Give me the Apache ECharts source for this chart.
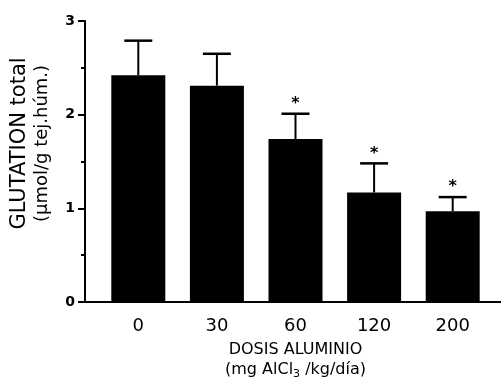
<!DOCTYPE html>
<html>
<head>
<meta charset="utf-8">
<script src="https://cdn.jsdelivr.net/npm/echarts@6/dist/echarts.min.js"></script>
<style>
  html, body { margin: 0; padding: 0; background: #fff; }
  #chart { width: 501px; height: 383px; }
</style>
</head>
<body>
<div id="chart"></div>
<script>
// dose groups (mg AlCl3/kg/día)
const categories = ['0', '30', '60', '120', '200'];
// total glutathione, mean and SD (µmol/g tej. húm.)
const means = [2.42, 2.31, 1.74, 1.17, 0.97];
const errors = [0.37, 0.34, 0.27, 0.31, 0.15];
// significance marks
const marks = ['', '', '*', '*', '*'];
const yTicks = [0, 1, 2, 3];

const font = 'DejaVu Sans';
const errData = means.map((m, i) => [i, m, errors[i], marks[i]]);

const chart = echarts.init(document.getElementById('chart'));

const option = {
  backgroundColor: '#fff',
  animation: false,
  grid: [
    { left: 99, right: 9, top: 21, bottom: 81, outerBoundsMode: 'none', containLabel: false },
    // wider grid only used to draw the long baseline
    { left: 85, right: 0, top: 21, bottom: 81, outerBoundsMode: 'none', containLabel: false }
  ],
  xAxis: [
    {
      type: 'category',
      gridIndex: 0,
      data: categories,
      axisLine: { show: false, onZero: false },
      axisTick: { show: false },
      axisLabel: {
        color: '#000',
        fontFamily: font,
        fontSize: 18,
        margin: 15
      },
      name: '{a|DOSIS ALUMINIO}\n{a|(mg AlCl}{s|3}{a| /kg/día)}',
      nameLocation: 'middle',
      nameGap: 38,
      nameTextStyle: {
        color: '#000',
        rich: {
          a: { fontFamily: font, fontSize: 16, lineHeight: 20, color: '#000' },
          s: { fontFamily: font, fontSize: 11, lineHeight: 20, verticalAlign: 'bottom', color: '#000' }
        }
      }
    },
    {
      type: 'value',
      gridIndex: 1,
      min: 0,
      max: 1,
      axisLine: { show: true, onZero: false, lineStyle: { color: '#000', width: 2 } },
      axisTick: { show: false },
      axisLabel: { show: false },
      splitLine: { show: false }
    }
  ],
  yAxis: [
    {
      type: 'value',
      gridIndex: 0,
      min: yTicks[0],
      max: yTicks[yTicks.length - 1],
      interval: 1,
      offset: 14,
      axisLine: { show: true, lineStyle: { color: '#000', width: 2 } },
      axisTick: { show: true, length: 7, lineStyle: { color: '#000', width: 2 } },
      minorTick: { show: true, splitNumber: 2, length: 4, lineStyle: { color: '#000', width: 2 } },
      splitLine: { show: false },
      axisLabel: {
        color: '#000',
        fontFamily: font,
        fontSize: 14,
        fontWeight: 'bold',
        margin: 10
      },
      name: '{a|GLUTATION total}\n{b|(µmol/g tej.húm.)}',
      nameLocation: 'middle',
      nameGap: 33,
      nameTextStyle: {
        color: '#000',
        padding: [0, 0, 0, 36],
        rich: {
          a: { fontFamily: font, fontSize: 21, lineHeight: 24, color: '#000' },
          b: { fontFamily: font, fontSize: 18, lineHeight: 20, color: '#000' }
        }
      }
    },
    {
      type: 'value',
      gridIndex: 1,
      min: 0,
      max: 1,
      show: false
    }
  ],
  series: [
    {
      type: 'bar',
      xAxisIndex: 0,
      yAxisIndex: 0,
      data: means,
      barWidth: 54,
      itemStyle: { color: '#000' }
    },
    {
      type: 'custom',
      xAxisIndex: 0,
      yAxisIndex: 0,
      data: errData,
      z: 3,
      renderItem: function (params, api) {
        const idx = api.value(0);
        const base = api.coord([idx, api.value(1)]);
        const top = api.coord([idx, api.value(1) + api.value(2)]);
        const half = 14;
        const children = [
          {
            type: 'line',
            shape: { x1: top[0], y1: base[1], x2: top[0], y2: top[1] },
            style: { stroke: '#000', lineWidth: 2 }
          },
          {
            type: 'line',
            shape: { x1: top[0] - half, y1: top[1], x2: top[0] + half, y2: top[1] },
            style: { stroke: '#000', lineWidth: 2.5 }
          }
        ];
        const mark = api.value(3);
        if (mark) {
          children.push({
            type: 'text',
            style: {
              text: mark,
              x: top[0],
              y: top[1] - 10,
              align: 'center',
              verticalAlign: 'middle',
              fontFamily: font,
              fontSize: 16,
              fontWeight: 'bold',
              fill: '#000'
            }
          });
        }
        return { type: 'group', children: children };
      }
    }
  ]
};

chart.setOption(option);
</script>
</body>
</html>
